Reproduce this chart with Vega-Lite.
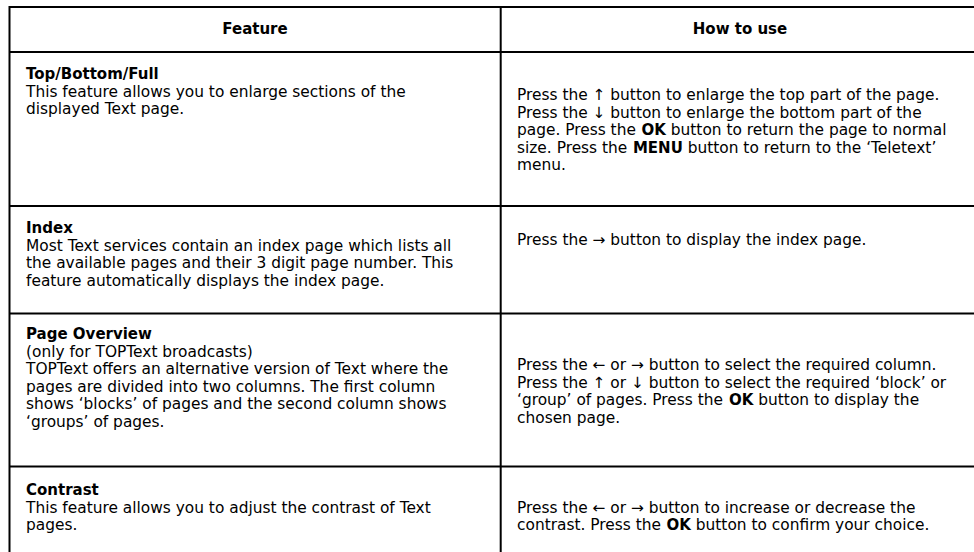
{
  "$schema": "https://vega.github.io/schema/vega-lite/v6.json",
  "width": 974,
  "height": 552,
  "padding": 0,
  "autosize": {"type": "fit", "contains": "padding"},
  "background": "white",
  "view": {"stroke": null},
  "config": {"text": {"font": "DejaVu Sans", "fontSize": 15.4, "color": "#000000", "baseline": "alphabetic", "align": "left"}},
  "datasets": {
    "grid": [
      {"x1": 9.5, "x2": 974, "y1": 7, "y2": 7},
      {"x1": 9.5, "x2": 974, "y1": 52, "y2": 52},
      {"x1": 9.5, "x2": 974, "y1": 206, "y2": 206},
      {"x1": 9.5, "x2": 974, "y1": 313.5, "y2": 313.5},
      {"x1": 9.5, "x2": 974, "y1": 466.5, "y2": 466.5},
      {"x1": 9.5, "x2": 9.5, "y1": 6, "y2": 552},
      {"x1": 500.7, "x2": 500.7, "y1": 6, "y2": 552}
    ],
    "cells": [
      {"x": 255, "y": 34, "s": "head", "text": "Feature"},
      {"x": 740, "y": 34, "s": "head", "text": "How to use"},
      {"x": 26, "y": 79, "s": "title", "text": "Top/Bottom/Full"},
      {"x": 26, "y": 96.5, "s": "body", "text": "This feature allows you to enlarge sections of the"},
      {"x": 26, "y": 114, "s": "body", "text": "displayed Text page."},
      {"x": 26, "y": 233, "s": "title", "text": "Index"},
      {"x": 26, "y": 250.5, "s": "body", "text": "Most Text services contain an index page which lists all"},
      {"x": 26, "y": 268, "s": "body", "text": "the available pages and their 3 digit page number. This"},
      {"x": 26, "y": 285.5, "s": "body", "text": "feature automatically displays the index page."},
      {"x": 26, "y": 339, "s": "title", "text": "Page Overview"},
      {"x": 26, "y": 356.5, "s": "body", "text": "(only for TOPText broadcasts)"},
      {"x": 26, "y": 374, "s": "body", "text": "TOPText offers an alternative version of Text where the"},
      {"x": 26, "y": 391.5, "s": "body", "text": "pages are divided into two columns. The first column"},
      {"x": 26, "y": 409, "s": "body", "text": "shows ‘blocks’ of pages and the second column shows"},
      {"x": 26, "y": 426.5, "s": "body", "text": "‘groups’ of pages."},
      {"x": 26, "y": 495, "s": "title", "text": "Contrast"},
      {"x": 26, "y": 512.5, "s": "body", "text": "This feature allows you to adjust the contrast of Text"},
      {"x": 26, "y": 530, "s": "body", "text": "pages."},
      {"x": 517, "y": 100, "s": "body", "text": "Press the ↑ button to enlarge the top part of the page."},
      {"x": 517, "y": 117.5, "s": "body", "text": "Press the ↓ button to enlarge the bottom part of the"},
      {"x": 517, "y": 135, "s": "body", "text": "page. Press the"},
      {"x": 641.5, "y": 135, "s": "key", "text": "OK"},
      {"x": 670.8, "y": 135, "s": "body", "text": "button to return the page to normal"},
      {"x": 517, "y": 152.5, "s": "body", "text": "size. Press the"},
      {"x": 632.9, "y": 152.5, "s": "key", "text": "MENU"},
      {"x": 687.7, "y": 152.5, "s": "body", "text": "button to return to the ‘Teletext’"},
      {"x": 517, "y": 170, "s": "body", "text": "menu."},
      {"x": 517, "y": 245, "s": "body", "text": "Press the → button to display the index page."},
      {"x": 517, "y": 370.25, "s": "body", "text": "Press the ← or → button to select the required column."},
      {"x": 517, "y": 387.75, "s": "body", "text": "Press the ↑ or ↓ button to select the required ‘block’ or"},
      {"x": 517, "y": 405.25, "s": "body", "text": "‘group’ of pages. Press the"},
      {"x": 729.0, "y": 405.25, "s": "key", "text": "OK"},
      {"x": 758.3, "y": 405.25, "s": "body", "text": "button to display the"},
      {"x": 517, "y": 422.75, "s": "body", "text": "chosen page."},
      {"x": 517, "y": 512.5, "s": "body", "text": "Press the ← or → button to increase or decrease the"},
      {"x": 517, "y": 530, "s": "body", "text": "contrast. Press the"},
      {"x": 666.5, "y": 530, "s": "key", "text": "OK"},
      {"x": 695.8, "y": 530, "s": "body", "text": "button to confirm your choice."}
    ]
  },
  "layer": [
    {
      "data": {"name": "grid"},
      "mark": {"type": "rule", "color": "#000000", "strokeWidth": 2, "clip": true},
      "encoding": {
        "x": {"field": "x1", "type": "quantitative", "scale": {"domain": [0, 974], "nice": false, "zero": false}, "axis": null},
        "x2": {"field": "x2"},
        "y": {"field": "y1", "type": "quantitative", "scale": {"domain": [0, 552], "nice": false, "zero": false, "reverse": true}, "axis": null},
        "y2": {"field": "y2"}
      }
    },
    {
      "data": {"name": "cells"},
      "transform": [{"filter": "datum.s === 'head'"}],
      "mark": {"type": "text", "fontWeight": "bold", "fontSize": 15, "align": "center"},
      "encoding": {
        "x": {"field": "x", "type": "quantitative", "axis": null},
        "y": {"field": "y", "type": "quantitative", "axis": null},
        "text": {"field": "text"}
      }
    },
    {
      "data": {"name": "cells"},
      "transform": [{"filter": "datum.s === 'title' || datum.s === 'key'"}],
      "mark": {"type": "text", "fontWeight": "bold", "fontSize": 15},
      "encoding": {
        "x": {"field": "x", "type": "quantitative", "axis": null},
        "y": {"field": "y", "type": "quantitative", "axis": null},
        "text": {"field": "text"}
      }
    },
    {
      "data": {"name": "cells"},
      "transform": [{"filter": "datum.s === 'body'"}],
      "mark": {"type": "text"},
      "encoding": {
        "x": {"field": "x", "type": "quantitative", "axis": null},
        "y": {"field": "y", "type": "quantitative", "axis": null},
        "text": {"field": "text"}
      }
    }
  ]
}
